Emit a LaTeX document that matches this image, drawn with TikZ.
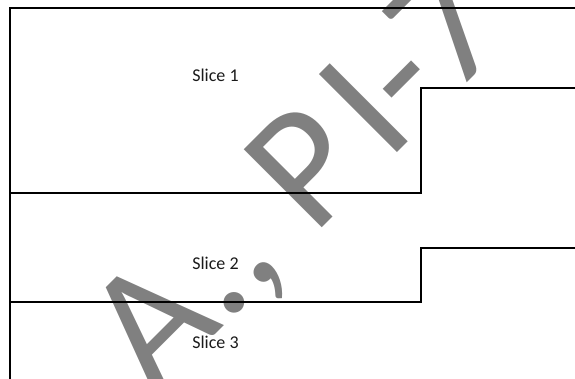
\documentclass[tikz,border=0pt]{standalone}
\usepackage{fontspec}
\setmainfont{Carlito}
\definecolor{wmgray}{HTML}{808080}
\definecolor{labelink}{HTML}{1A1A1A}
\begin{document}
\begin{tikzpicture}[x=1pt,y=1pt,
  wm/.style={text=wmgray, font=\fontsize{172}{172}\selectfont, rotate=45, anchor=base west, inner sep=0pt, outer sep=0pt},
  slicelabel/.style={font=\fontsize{18}{20}\selectfont, anchor=base, inner sep=0pt, text=labelink},
  border/.style={line width=2pt, draw=black}]
\useasboundingbox (0,0) rectangle (575,379);
\clip (0,0) rectangle (575,379);
% watermark
\node[wm] (wmA) at (154.1,-16.9) {A., P};
\node[wm] (wmI) at (387.1,216.1) {I-7};
% outline
\draw[border] (10,-2) -- (10,371) -- (577,371);
\draw[border] (10,186) -- (421,186) -- (421,291) -- (577,291);
\draw[border] (10,77) -- (421,77) -- (421,131) -- (577,131);
% labels
\node[slicelabel] (s1) at (215.5,297.5) {Slice 1};
\node[slicelabel] (s2) at (215.5,109.5) {Slice 2};
\node[slicelabel] (s3) at (215.5,30) {Slice 3};
\end{tikzpicture}
\end{document}
